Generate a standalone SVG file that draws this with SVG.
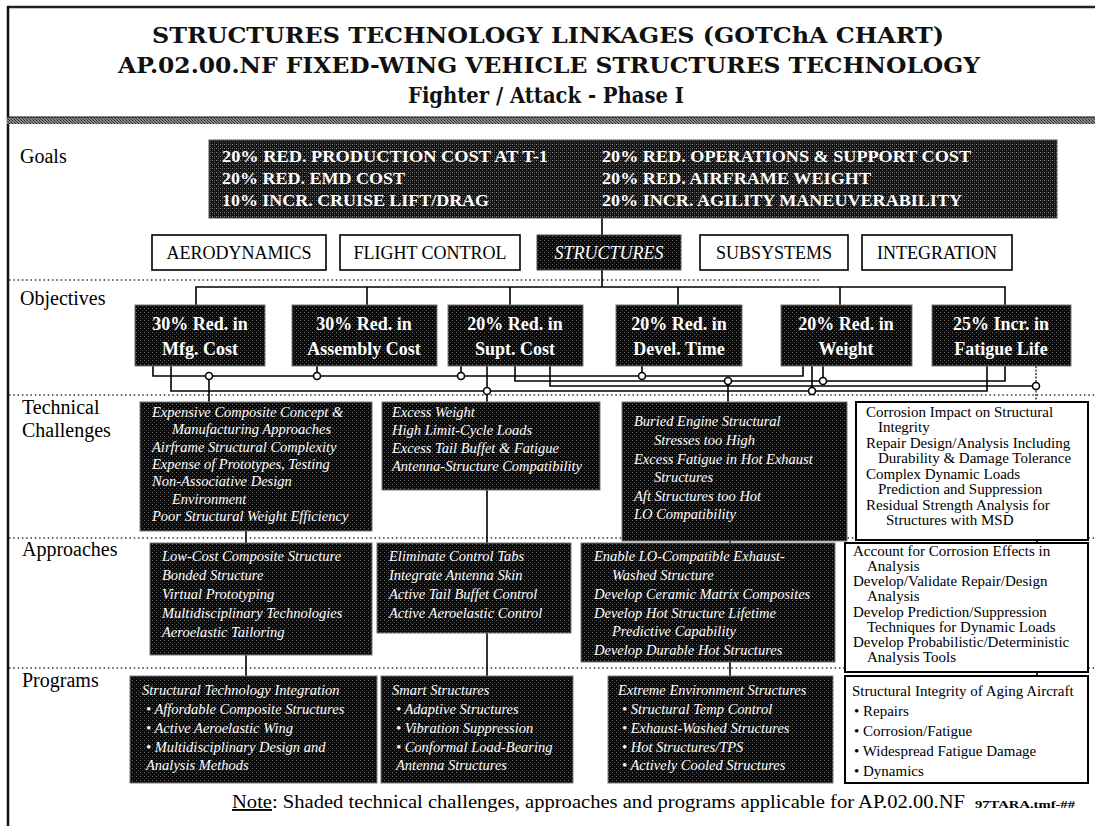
<svg xmlns="http://www.w3.org/2000/svg" width="1095" height="826" viewBox="0 0 1095 826">
  <defs>
    <!-- halftone fill used by the shaded boxes -->
    <pattern id="dither" width="4" height="4" patternUnits="userSpaceOnUse">
      <rect width="4" height="4" fill="#0b0b0b"/>
      <rect x="0" y="0" width="1" height="1" fill="#666"/>
      <rect x="2" y="2" width="1" height="1" fill="#444"/>
    </pattern>
    <pattern id="ditherGrey" width="4" height="4" patternUnits="userSpaceOnUse">
      <rect width="4" height="4" fill="#151515"/>
      <rect x="0" y="0" width="1" height="1" fill="#888"/>
      <rect x="2" y="2" width="1" height="1" fill="#666"/>
      <rect x="2" y="0" width="1" height="1" fill="#444"/>
    </pattern>
    <pattern id="band" width="3" height="3" patternUnits="userSpaceOnUse">
      <rect width="3" height="3" fill="#8a8a8a"/>
      <rect x="0" y="0" width="1" height="1" fill="#222"/>
      <rect x="1" y="1" width="1" height="1" fill="#444"/>
      <rect x="2" y="2" width="1" height="1" fill="#333"/>
    </pattern>
  </defs>
  <style>
    text { font-family: "Liberation Serif", "Times New Roman", serif; }
    .title { font-family: "DejaVu Serif", "Liberation Serif", serif; font-weight: bold; font-size: 23px; fill: #111; text-anchor: middle; }
    .lbl { font-size: 20px; fill: #000; }
    .goal { font-size: 16px; font-weight: bold; fill: #fff; }
    .cat { font-size: 18px; fill: #000; text-anchor: middle; }
    .obj { font-size: 18px; font-weight: bold; fill: #fff; text-anchor: middle; }
    .shd { font-size: 14.5px; font-style: italic; fill: #fff; }
    .wht { font-size: 15px; fill: #000; }
    .boxS { fill: url(#dither); stroke: #777; stroke-width: 1; }
    .boxW { fill: #fff; stroke: #000; stroke-width: 2; }
    .boxC { fill: #fff; stroke: #000; stroke-width: 1.6; }
    .wire { stroke: #000; stroke-width: 1.6; fill: none; }
    .thin { stroke: #000; stroke-width: 1.2; fill: none; stroke-dasharray: 2 1.5; }
    .jn { fill: #fff; stroke: #000; stroke-width: 1.6; }
    .sep { stroke: #333; stroke-width: 1.3; stroke-dasharray: 1.5 2.8; }
  </style>

  <!-- frame and header -->
  <g id="frame">
    <line x1="7" y1="7" x2="1095" y2="7" stroke="#222" stroke-width="2.5"/>
    <line x1="8" y1="6" x2="8" y2="826" stroke="#111" stroke-width="2.5"/>
    <rect x="7" y="117" width="1088" height="7" fill="url(#band)"/>
    <line x1="7" y1="117" x2="1095" y2="117" stroke="#111" stroke-width="1"/>
  </g>
  <g id="header">
    <text class="title" x="548" y="43" textLength="792" lengthAdjust="spacingAndGlyphs">STRUCTURES TECHNOLOGY LINKAGES (GOTChA CHART)</text>
    <text class="title" x="549" y="73" textLength="862" lengthAdjust="spacingAndGlyphs">AP.02.00.NF FIXED-WING VEHICLE STRUCTURES TECHNOLOGY</text>
    <text class="title" x="546" y="103" textLength="276" lengthAdjust="spacingAndGlyphs">Fighter / Attack - Phase I</text>
  </g>

  <!-- row separators -->
  <g id="separators">
    <line class="sep" x1="9" y1="280" x2="820" y2="280"/>
    <line class="sep" x1="9" y1="395" x2="1095" y2="395"/>
    <line class="sep" x1="9" y1="538" x2="1095" y2="538"/>
    <line class="sep" x1="9" y1="668" x2="1095" y2="668"/>
  </g>

  <!-- row labels -->
  <g id="row-labels">
    <text class="lbl" x="20" y="163">Goals</text>
    <text class="lbl" x="20" y="305">Objectives</text>
    <text class="lbl" x="22" y="414">Technical</text>
    <text class="lbl" x="22" y="437">Challenges</text>
    <text class="lbl" x="22" y="556">Approaches</text>
    <text class="lbl" x="22" y="687">Programs</text>
  </g>

  <!-- connectors -->
  <g id="connectors">
    <!-- goals to discipline row to objectives bus -->
    <line class="wire" x1="602" y1="218" x2="602" y2="235"/>
    <line class="wire" x1="602" y1="270" x2="602" y2="287"/>
    <polyline class="wire" points="196,305 196,287 1005,287 1005,305"/>
    <line class="wire" x1="367" y1="287" x2="367" y2="305"/>
    <line class="wire" x1="510" y1="287" x2="510" y2="305"/>
    <line class="wire" x1="678" y1="287" x2="678" y2="305"/>
    <line class="wire" x1="840" y1="287" x2="840" y2="305"/>

    <!-- objectives to challenges -->
    <polyline class="wire" points="153,366 153,376 803,376 803,366"/>
    <polyline class="wire" points="515,366 515,381 1005,381 1005,366"/>
    <polyline class="wire" points="550,366 550,386 1036,386"/>
    <polyline class="wire" points="171,366 171,391 987,391 987,366"/>
    <line class="wire" x1="317" y1="366" x2="317" y2="376"/>
    <line class="wire" x1="461" y1="366" x2="461" y2="376"/>
    <line class="wire" x1="642" y1="366" x2="642" y2="376"/>
    <line class="wire" x1="823" y1="366" x2="823" y2="381"/>
    <line class="wire" x1="812" y1="366" x2="812" y2="391"/>
    <line class="wire" x1="487" y1="366" x2="487" y2="402"/>
    <line class="wire" x1="209" y1="376" x2="209" y2="402"/>
    <line class="wire" x1="728" y1="381" x2="728" y2="402"/>
    <line class="thin" x1="1036" y1="366" x2="1036" y2="402"/>

    <!-- challenges to approaches to programs -->
    <line class="wire" x1="246" y1="531" x2="246" y2="543"/>
    <line class="wire" x1="246" y1="655" x2="246" y2="676"/>
    <line class="wire" x1="487" y1="490" x2="487" y2="543"/>
    <line class="wire" x1="487" y1="633" x2="487" y2="676"/>
    <line class="wire" x1="730" y1="541" x2="730" y2="543"/>
    <line class="wire" x1="730" y1="662" x2="730" y2="676"/>
    <line class="wire" x1="1037" y1="540" x2="1037" y2="543"/>
    <line class="wire" x1="1037" y1="672" x2="1037" y2="676"/>

    <!-- junction markers -->
    <circle class="jn" cx="209" cy="376" r="3.5"/>
    <circle class="jn" cx="317" cy="376" r="3.5"/>
    <circle class="jn" cx="461" cy="376" r="3.5"/>
    <circle class="jn" cx="642" cy="376" r="3.5"/>
    <circle class="jn" cx="728" cy="381" r="3.5"/>
    <circle class="jn" cx="823" cy="381" r="3.5"/>
    <circle class="jn" cx="487" cy="391" r="3.5"/>
    <circle class="jn" cx="812" cy="391" r="3.5"/>
    <circle class="jn" cx="1036" cy="386" r="3.5"/>
  </g>

  <!-- goals -->
  <g id="goals">
    <rect x="209" y="140" width="848" height="78" fill="url(#ditherGrey)" stroke="#555" stroke-width="1"/>
    <text class="goal" x="222" y="162" textLength="326" lengthAdjust="spacingAndGlyphs">20% RED. PRODUCTION COST AT T-1</text>
    <text class="goal" x="222" y="184" textLength="183" lengthAdjust="spacingAndGlyphs">20% RED. EMD COST</text>
    <text class="goal" x="222" y="206" textLength="267" lengthAdjust="spacingAndGlyphs">10% INCR. CRUISE LIFT/DRAG</text>
    <text class="goal" x="602" y="162" textLength="369" lengthAdjust="spacingAndGlyphs">20% RED. OPERATIONS &amp; SUPPORT COST</text>
    <text class="goal" x="602" y="184" textLength="269" lengthAdjust="spacingAndGlyphs">20% RED. AIRFRAME WEIGHT</text>
    <text class="goal" x="602" y="206" textLength="360" lengthAdjust="spacingAndGlyphs">20% INCR. AGILITY MANEUVERABILITY</text>
  </g>

  <!-- discipline row -->
  <g id="aerodynamics">
    <rect class="boxC" x="152" y="235" width="174" height="35"/>
    <text class="cat" x="239" y="259">AERODYNAMICS</text>
  </g>
  <g id="flight-control">
    <rect class="boxC" x="340" y="235" width="180" height="35"/>
    <text class="cat" x="430" y="259">FLIGHT CONTROL</text>
  </g>
  <g id="structures">
    <rect x="537" y="235" width="144" height="35" fill="url(#dither)" stroke="#555" stroke-width="1"/>
    <text class="cat" x="609" y="259" style="fill:#fff;font-style:italic">STRUCTURES</text>
  </g>
  <g id="subsystems">
    <rect class="boxC" x="700" y="235" width="148" height="35"/>
    <text class="cat" x="774" y="259">SUBSYSTEMS</text>
  </g>
  <g id="integration">
    <rect class="boxC" x="862" y="235" width="150" height="35"/>
    <text class="cat" x="937" y="259">INTEGRATION</text>
  </g>

  <!-- objectives -->
  <g id="obj-mfg-cost">
    <rect class="boxS" x="135" y="305" width="130" height="61"/>
    <text class="obj" x="200" y="330">30% Red. in</text>
    <text class="obj" x="200" y="355">Mfg. Cost</text>
  </g>
  <g id="obj-assembly-cost">
    <rect class="boxS" x="292" y="305" width="145" height="61"/>
    <text class="obj" x="364" y="330">30% Red. in</text>
    <text class="obj" x="364" y="355">Assembly Cost</text>
  </g>
  <g id="obj-supt-cost">
    <rect class="boxS" x="448" y="305" width="135" height="61"/>
    <text class="obj" x="515" y="330">20% Red. in</text>
    <text class="obj" x="515" y="355">Supt. Cost</text>
  </g>
  <g id="obj-devel-time">
    <rect class="boxS" x="616" y="305" width="126" height="61"/>
    <text class="obj" x="679" y="330">20% Red. in</text>
    <text class="obj" x="679" y="355">Devel. Time</text>
  </g>
  <g id="obj-weight">
    <rect class="boxS" x="781" y="305" width="131" height="61"/>
    <text class="obj" x="846" y="330">20% Red. in</text>
    <text class="obj" x="846" y="355">Weight</text>
  </g>
  <g id="obj-fatigue-life">
    <rect class="boxS" x="932" y="305" width="139" height="61"/>
    <text class="obj" x="1001" y="330">25% Incr. in</text>
    <text class="obj" x="1001" y="355">Fatigue Life</text>
  </g>

  <!-- technical challenges -->
  <g id="tc-composite">
    <rect class="boxS" x="140" y="402" width="232" height="129"/>
    <text class="shd" x="152" y="417">Expensive Composite Concept &amp;</text>
    <text class="shd" x="172" y="434">Manufacturing Approaches</text>
    <text class="shd" x="152" y="452">Airframe Structural Complexity</text>
    <text class="shd" x="152" y="469">Expense of Prototypes, Testing</text>
    <text class="shd" x="152" y="486">Non-Associative Design</text>
    <text class="shd" x="172" y="504">Environment</text>
    <text class="shd" x="152" y="521">Poor Structural Weight Efficiency</text>
  </g>
  <g id="tc-weight-loads">
    <rect class="boxS" x="382" y="402" width="218" height="88"/>
    <text class="shd" x="392" y="417">Excess Weight</text>
    <text class="shd" x="392" y="435">High Limit-Cycle Loads</text>
    <text class="shd" x="392" y="453">Excess Tail Buffet &amp; Fatigue</text>
    <text class="shd" x="392" y="471">Antenna-Structure Compatibility</text>
  </g>
  <g id="tc-hot-structures">
    <rect class="boxS" x="622" y="402" width="225" height="139"/>
    <text class="shd" x="634" y="426">Buried Engine Structural</text>
    <text class="shd" x="654" y="445">Stresses too High</text>
    <text class="shd" x="634" y="464">Excess Fatigue in Hot Exhaust</text>
    <text class="shd" x="654" y="482">Structures</text>
    <text class="shd" x="634" y="501">Aft Structures too Hot</text>
    <text class="shd" x="634" y="519">LO Compatibility</text>
  </g>
  <g id="tc-aging">
    <rect class="boxW" x="856" y="402" width="232" height="138"/>
    <text class="wht" x="866" y="417">Corrosion Impact on Structural</text>
    <text class="wht" x="878" y="432">Integrity</text>
    <text class="wht" x="866" y="448">Repair Design/Analysis Including</text>
    <text class="wht" x="878" y="463">Durability &amp; Damage Tolerance</text>
    <text class="wht" x="866" y="479">Complex Dynamic Loads</text>
    <text class="wht" x="878" y="494">Prediction and Suppression</text>
    <text class="wht" x="866" y="510">Residual Strength Analysis for</text>
    <text class="wht" x="886" y="525">Structures with MSD</text>
  </g>

  <!-- approaches -->
  <g id="ap-composite">
    <rect class="boxS" x="150" y="543" width="222" height="112"/>
    <text class="shd" x="162" y="561">Low-Cost Composite Structure</text>
    <text class="shd" x="162" y="580">Bonded Structure</text>
    <text class="shd" x="162" y="599">Virtual Prototyping</text>
    <text class="shd" x="162" y="618">Multidisciplinary Technologies</text>
    <text class="shd" x="162" y="637">Aeroelastic Tailoring</text>
  </g>
  <g id="ap-control">
    <rect class="boxS" x="377" y="543" width="194" height="90"/>
    <text class="shd" x="389" y="561">Eliminate Control Tabs</text>
    <text class="shd" x="389" y="580">Integrate Antenna Skin</text>
    <text class="shd" x="389" y="599">Active Tail Buffet Control</text>
    <text class="shd" x="389" y="618">Active Aeroelastic Control</text>
  </g>
  <g id="ap-hot-structures">
    <rect class="boxS" x="581" y="543" width="254" height="119"/>
    <text class="shd" x="594" y="561">Enable LO-Compatible Exhaust-</text>
    <text class="shd" x="612" y="580">Washed Structure</text>
    <text class="shd" x="594" y="599">Develop Ceramic Matrix Composites</text>
    <text class="shd" x="594" y="618">Develop Hot Structure Lifetime</text>
    <text class="shd" x="612" y="636">Predictive Capability</text>
    <text class="shd" x="594" y="655">Develop Durable Hot Structures</text>
  </g>
  <g id="ap-aging">
    <rect class="boxW" x="845" y="543" width="243" height="129"/>
    <text class="wht" x="853" y="556">Account for Corrosion Effects in</text>
    <text class="wht" x="867" y="571">Analysis</text>
    <text class="wht" x="853" y="586">Develop/Validate Repair/Design</text>
    <text class="wht" x="867" y="601">Analysis</text>
    <text class="wht" x="853" y="617">Develop Prediction/Suppression</text>
    <text class="wht" x="867" y="632">Techniques for Dynamic Loads</text>
    <text class="wht" x="853" y="647">Develop Probabilistic/Deterministic</text>
    <text class="wht" x="867" y="662">Analysis Tools</text>
  </g>

  <!-- programs -->
  <g id="pg-integration">
    <rect class="boxS" x="130" y="676" width="247" height="107"/>
    <text class="shd" x="142" y="695">Structural Technology Integration</text>
    <text class="shd" x="146" y="714">•  Affordable Composite Structures</text>
    <text class="shd" x="146" y="733">•  Active Aeroelastic Wing</text>
    <text class="shd" x="146" y="752">•  Multidisciplinary Design and</text>
    <text class="shd" x="146" y="770">Analysis Methods</text>
  </g>
  <g id="pg-smart">
    <rect class="boxS" x="381" y="676" width="192" height="107"/>
    <text class="shd" x="392" y="695">Smart Structures</text>
    <text class="shd" x="396" y="714">•  Adaptive Structures</text>
    <text class="shd" x="396" y="733">•  Vibration Suppression</text>
    <text class="shd" x="396" y="752">•  Conformal Load-Bearing</text>
    <text class="shd" x="396" y="770">Antenna Structures</text>
  </g>
  <g id="pg-extreme">
    <rect class="boxS" x="608" y="676" width="225" height="107"/>
    <text class="shd" x="618" y="695">Extreme Environment Structures</text>
    <text class="shd" x="622" y="714">•  Structural Temp Control</text>
    <text class="shd" x="622" y="733">•  Exhaust-Washed Structures</text>
    <text class="shd" x="622" y="752">•  Hot Structures/TPS</text>
    <text class="shd" x="622" y="770">•  Actively Cooled Structures</text>
  </g>
  <g id="pg-aging">
    <rect class="boxW" x="845" y="676" width="243" height="107"/>
    <text class="wht" x="852" y="696">Structural Integrity of Aging Aircraft</text>
    <text class="wht" x="854" y="716">•  Repairs</text>
    <text class="wht" x="854" y="736">•  Corrosion/Fatigue</text>
    <text class="wht" x="854" y="756">•  Widespread Fatigue Damage</text>
    <text class="wht" x="854" y="776">•  Dynamics</text>
  </g>

  <!-- footnote -->
  <g id="footnote">
    <text x="232" y="808" font-size="19" fill="#000" textLength="733" lengthAdjust="spacingAndGlyphs"><tspan text-decoration="underline">Note</tspan>:  Shaded technical challenges, approaches and programs applicable for AP.02.00.NF</text>
    <text x="975" y="808" font-size="10.5" font-weight="bold" fill="#000" textLength="100" lengthAdjust="spacingAndGlyphs">97TARA.tmf-##</text>
  </g>
</svg>
